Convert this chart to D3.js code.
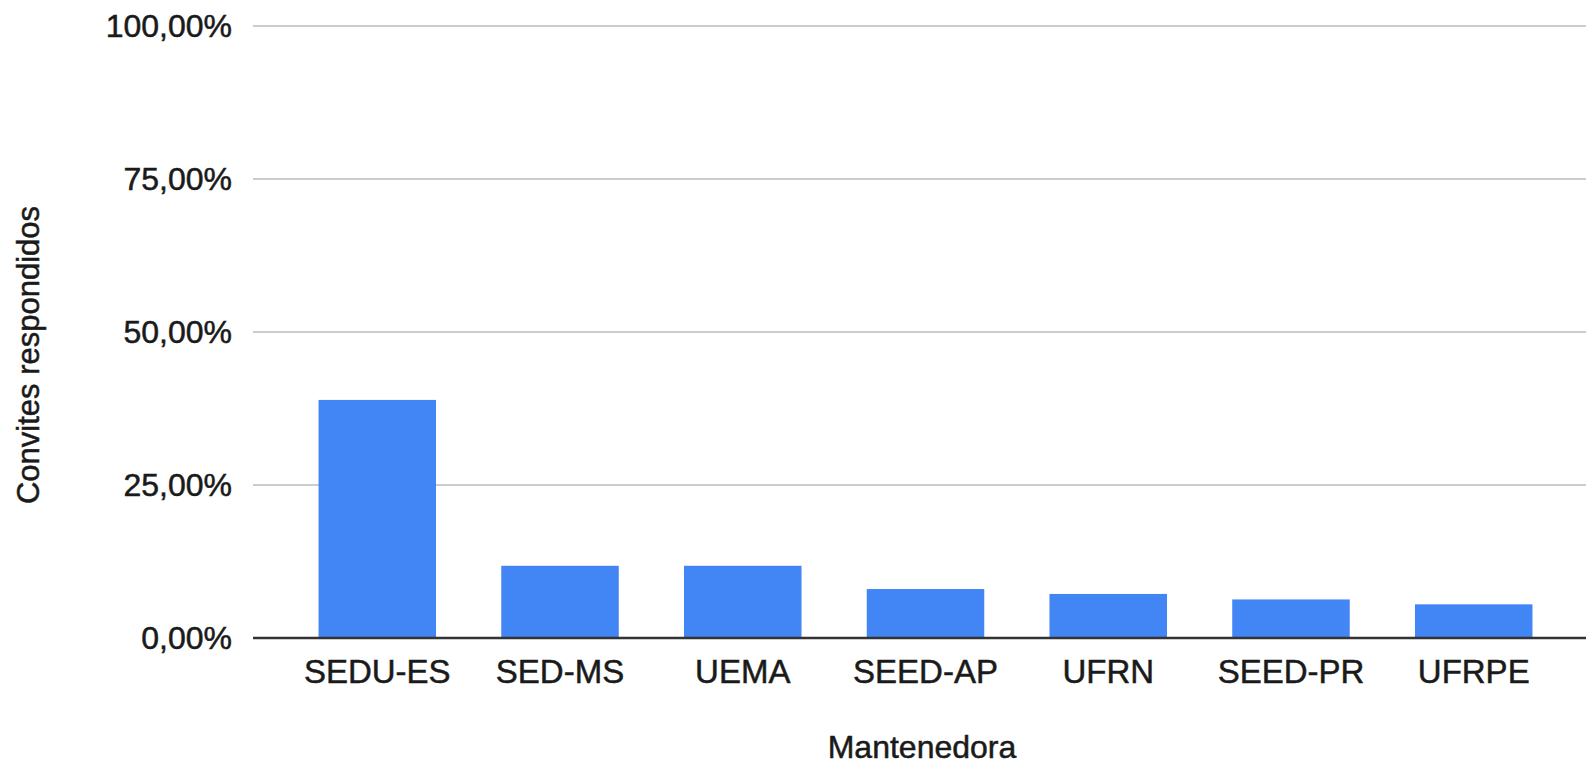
<!DOCTYPE html>
<html>
<head>
<meta charset="utf-8">
<script src="https://cdn.jsdelivr.net/npm/d3@7"></script>
<style>
  html, body { margin: 0; padding: 0; background: #fff; }
  svg { display: block; }
  text { font-family: "Liberation Sans", Arial, sans-serif; fill: #1a1a1a; stroke: #1a1a1a; stroke-width: 0.5px; }
</style>
</head>
<body>
<svg id="chart" width="1586" height="766"></svg>
<script>
const categories = ["SEDU-ES", "SED-MS", "UEMA", "SEED-AP", "UFRN", "SEED-PR", "UFRPE"];
const values = [38.9, 11.8, 11.8, 8.0, 7.2, 6.3, 5.5];
const tickValues = [0, 25, 50, 75, 100];
const yTitle = "Convites respondidos";
const xTitle = "Mantenedora";

const svg = d3.select("#chart");
const plot = { left: 253, right: 1586, top: 26, bottom: 638 };

const y = d3.scaleLinear().domain([0, 100]).range([plot.bottom, plot.top]);
const x = d3.scaleBand().domain(categories).range([286, 1565]).paddingInner(0.357).paddingOuter(0.178);

const fmt = v => d3.format(".2f")(v).replace(".", ",") + "%";

// gridlines
svg.append("g").selectAll("line").data(tickValues.filter(t => t !== 0)).join("line")
  .attr("x1", plot.left).attr("x2", plot.right)
  .attr("y1", d => y(d)).attr("y2", d => y(d))
  .attr("stroke", "#cccccc").attr("stroke-width", 2);

// y tick labels
svg.append("g").selectAll("text").data(tickValues).join("text")
  .attr("x", 232).attr("y", d => y(d))
  .attr("text-anchor", "end").attr("dominant-baseline", "central")
  .style("font-size", "32px")
  .text(fmt);

// bars
svg.append("g").selectAll("rect").data(categories).join("rect")
  .attr("x", d => x(d)).attr("width", x.bandwidth())
  .attr("y", (d, i) => y(values[i])).attr("height", (d, i) => y(0) - y(values[i]))
  .attr("fill", "#4285f4");

// baseline
svg.append("line")
  .attr("x1", plot.left).attr("x2", plot.right)
  .attr("y1", y(0)).attr("y2", y(0))
  .attr("stroke", "#333").attr("stroke-width", 2.5);

// x labels
svg.append("g").selectAll("text").data(categories).join("text")
  .attr("x", d => x(d) + x.bandwidth() / 2).attr("y", 683)
  .attr("text-anchor", "middle")
  .style("font-size", "33px")
  .text(d => d);

// axis titles
svg.append("text")
  .attr("x", 922).attr("y", 758)
  .attr("text-anchor", "middle")
  .style("font-size", "32px")
  .text(xTitle);

svg.append("text")
  .attr("transform", "translate(39,355) rotate(-90)")
  .attr("text-anchor", "middle")
  .style("font-size", "31px")
  .text(yTitle);
</script>
</body>
</html>
